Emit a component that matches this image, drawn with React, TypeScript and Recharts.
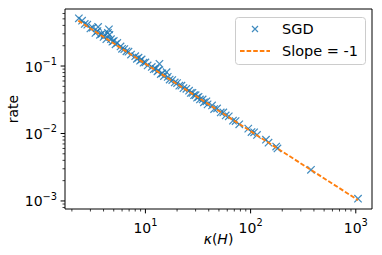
import React from 'react';
import { ComposedChart, Scatter, XAxis, YAxis, Legend, ReferenceArea } from 'recharts';

const sgdKappa = [
  2.33, 2.5, 2.65, 2.8, 3.0, 3.15,
  3.35, 3.5, 3.55, 3.7, 3.85, 4.0, 4.1, 4.25, 4.4, 4.5, 4.55, 4.7, 4.85, 5.0, 5.2, 5.4,
  5.8, 6.0, 6.3, 6.6, 6.9, 7.3,
  8.0, 8.3, 8.6, 8.9, 9.2, 9.6, 10.0, 10.5,
  11.5, 12.0, 12.5, 13.0, 13.3, 13.6, 14.0, 14.5, 15.0, 15.9, 16.3, 17.0,
  18, 19, 20, 21, 22, 23, 24.5,
  26, 27, 28, 29, 30, 31, 32, 33, 35, 36, 38, 39,
  43, 45, 48, 52, 55, 58, 62, 68, 72, 78,
  95, 102, 108, 115, 140, 148, 175, 180,
  375, 1050,
];
const sgdRate = [
  0.51, 0.47, 0.42, 0.41, 0.36, 0.37,
  0.31, 0.33, 0.38, 0.29, 0.30, 0.27, 0.29, 0.25, 0.31, 0.35, 0.29, 0.25, 0.23, 0.235, 0.21, 0.22,
  0.195, 0.18, 0.178, 0.165, 0.163, 0.148,
  0.14, 0.128, 0.133, 0.12, 0.125, 0.112, 0.113, 0.102,
  0.097, 0.09, 0.091, 0.083, 0.086, 0.108, 0.076, 0.078, 0.071, 0.081, 0.069, 0.063,
  0.062, 0.057, 0.056, 0.051, 0.051, 0.047, 0.046,
  0.043, 0.040, 0.040, 0.037, 0.037, 0.034, 0.035, 0.032, 0.032, 0.029, 0.030, 0.027,
  0.026, 0.023, 0.0235, 0.0205, 0.0205, 0.0185, 0.018, 0.0155, 0.0153, 0.0137,
  0.0118, 0.0105, 0.0104, 0.0095, 0.0081, 0.0073, 0.0064, 0.006,
  0.0029, 0.00108,
];
const slopeKappa = [2.3, 1050];
const slopeRate = [0.47, 0.00103];

const xMajor = [10, 100, 1000];
const xMajorExp = ['1', '2', '3'];
const yMajor = [0.001, 0.01, 0.1];
const yMajorExp = ['\u22123', '\u22122', '\u22121'];
const xTicks = [2, 3, 4, 5, 6, 7, 8, 9, 10, 20, 30, 40, 50, 60, 70, 80, 90, 100, 200, 300, 400, 500, 600, 700, 800, 900, 1000];
const yTicks = [0.0008, 0.0009, 0.001, 0.002, 0.003, 0.004, 0.005, 0.006, 0.007, 0.008, 0.009, 0.01, 0.02, 0.03, 0.04, 0.05, 0.06, 0.07, 0.08, 0.09, 0.1, 0.2, 0.3, 0.4, 0.5, 0.6];

const X_DOMAIN: [number, number] = [1.72, 1426];
const Y_DOMAIN: [number, number] = [0.00076, 0.7];

const sgdData = sgdKappa.map((k, i) => ({ k, r: sgdRate[i] }));
const slopeData = slopeKappa.map((k, i) => ({ k, r: slopeRate[i] }));

const FONT = 'DejaVu Sans, sans-serif';
const BLUE = '#1f77b4';
const ORANGE = '#ff7f0e';

const close = (a: number, b: number) => Math.abs(a - b) / b < 1e-6;

const XTick = (props: any) => {
  const { x, y, payload } = props;
  const v = payload.value;
  const idx = xMajor.findIndex((m) => close(v, m));
  const major = idx >= 0;
  return (
    <g>
      <line x1={x} x2={x} y1={y} y2={y + (major ? 4.4 : 2.5)} stroke="#000" strokeWidth={major ? 1 : 0.75} />
      {major && (
        <text x={x} y={y + 23.5} textAnchor="middle" fontSize={14} fontFamily={FONT} fill="#000">
          10<tspan dy={-6.5} fontSize={9.8}>{xMajorExp[idx]}</tspan>
        </text>
      )}
    </g>
  );
};

const YTick = (props: any) => {
  const { x, y, payload } = props;
  const v = payload.value;
  const idx = yMajor.findIndex((m) => close(v, m));
  const major = idx >= 0;
  return (
    <g>
      <line x1={x} x2={x - (major ? 4.4 : 2.5)} y1={y} y2={y} stroke="#000" strokeWidth={major ? 1 : 0.75} />
      {major && (
        <text x={x - 8} y={y + 5.5} textAnchor="end" fontSize={14} fontFamily={FONT} fill="#000">
          10<tspan dy={-6.5} fontSize={9.8}>{yMajorExp[idx]}</tspan>
        </text>
      )}
    </g>
  );
};

const XMark = (props: any) => {
  const { cx, cy } = props;
  if (cx == null || cy == null) return <g />;
  const h = 3.7;
  return (
    <path
      d={`M${cx - h},${cy - h}L${cx + h},${cy + h}M${cx - h},${cy + h}L${cx + h},${cy - h}`}
      stroke={BLUE}
      strokeWidth={1.2}
      strokeOpacity={0.85}
      fill="none"
    />
  );
};

const NoMark = () => <g />;

const XLabel = (props: any) => {
  const vb = props.viewBox || {};
  const cx = vb.x + vb.width / 2;
  const y = vb.y + 35;
  return (
    <text x={cx} y={y} textAnchor="middle" fontSize={14} fontFamily={FONT} fill="#000">
      <tspan fontStyle="italic">κ</tspan>(<tspan fontStyle="italic">H</tspan>)
    </text>
  );
};

const YLabel = (props: any) => {
  const vb = props.viewBox || {};
  const cy = vb.y + vb.height / 2;
  const x = 18;
  return (
    <text x={x} y={cy} transform={`rotate(-90, ${x}, ${cy})`} textAnchor="middle" fontSize={14} fontFamily={FONT} fill="#000">
      rate
    </text>
  );
};

const LegendBox = () => (
  <svg width={131} height={48} style={{ display: 'block' }}>
    <rect x={0.5} y={0.5} width={130} height={47} rx={3} ry={3} fill="#fff" fillOpacity={0.8} stroke="#cccccc" strokeWidth={1} />
    <path d="M17,9L23,15M17,15L23,9" stroke={BLUE} strokeWidth={1.2} strokeOpacity={0.85} fill="none" />
    <text x={47} y={17} fontSize={14.5} fontFamily={FONT} fill="#000">SGD</text>
    <line x1={5} x2={35} y1={34} y2={34} stroke={ORANGE} strokeWidth={1.9} strokeDasharray="4.6 2" />
    <text x={47} y={39} fontSize={14.5} fontFamily={FONT} fill="#000">Slope = -1</text>
  </svg>
);

export default function App() {
  return (
    <div style={{ position: 'absolute', left: 0, top: 0, width: 382, height: 255, background: '#fff' }}>
      <ComposedChart width={382} height={255} margin={{ top: 9, right: 10, bottom: 0, left: 0 }}>
        <XAxis
          dataKey="k"
          type="number"
          scale="log"
          domain={X_DOMAIN}
          allowDataOverflow
          ticks={xTicks}
          interval={0}
          tick={<XTick />}
          tickLine={false}
          tickSize={0}
          tickMargin={0}
          axisLine={false}
          height={46}
          label={{ content: <XLabel /> } as any}
        />
        <YAxis
          dataKey="r"
          type="number"
          scale="log"
          domain={Y_DOMAIN}
          allowDataOverflow
          ticks={yTicks}
          interval={0}
          tick={<YTick />}
          tickLine={false}
          tickSize={0}
          tickMargin={0}
          axisLine={false}
          width={65}
          label={{ content: <YLabel /> } as any}
        />
        <ReferenceArea x1={X_DOMAIN[0]} x2={X_DOMAIN[1]} y1={Y_DOMAIN[0]} y2={Y_DOMAIN[1]} fill="none" stroke="#000" strokeWidth={1} ifOverflow="visible" />
        <Scatter name="SGD" data={sgdData} dataKey="r" shape={<XMark />} isAnimationActive={false} />
        <Scatter
          name="Slope = -1"
          data={slopeData}
          dataKey="r"
          shape={<NoMark />}
          line={{ stroke: ORANGE, strokeWidth: 1.9, strokeDasharray: '4.6 2' }}
          isAnimationActive={false}
        />
        <Legend
          layout="vertical"
          align="center"
          verticalAlign="middle"
          content={() => <LegendBox />}
          wrapperStyle={{ position: 'absolute', left: 235, top: 17, width: 131, height: 48 }}
        />
      </ComposedChart>
    </div>
  );
}
